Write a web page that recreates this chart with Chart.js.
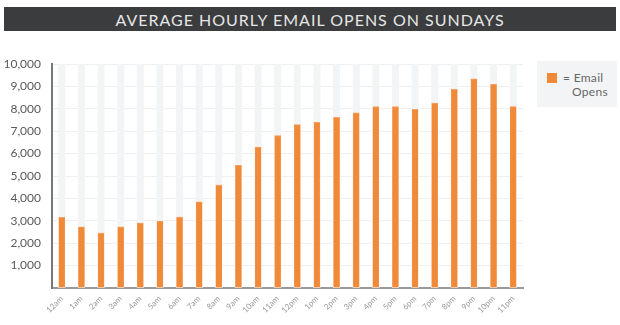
<!DOCTYPE html>
<html>
<head>
<meta charset="utf-8">
<script src="https://cdn.jsdelivr.net/npm/chart.js@4/dist/chart.umd.min.js"></script>
<style>
  html, body { margin: 0; padding: 0; background: #fff; }
  #wrap { position: relative; width: 620px; height: 325px; overflow: hidden; font-family: Lato, "Open Sans", sans-serif; }
  #title {
    position: absolute; left: 4px; top: 7px; width: 612px; height: 24px;
    background: #3a3c3d; color: #e6e6e6; font-size: 16px; letter-spacing: 1px;
    text-align: center; line-height: 25px;
  }
  #chartBox { position: absolute; left: 0; top: 0; width: 620px; height: 325px; }
  #legend {
    position: absolute; left: 537px; top: 61px; width: 80px; height: 46px;
    background: #f3f4f6; color: #666; font-size: 12px; line-height: 14px; letter-spacing: 0.3px;
  }
  #legend .sw { position: absolute; left: 10px; top: 12px; width: 10px; height: 10px; background: #f08a38; }
  #legend .t1 { position: absolute; left: 26px; top: 10px; }
  #legend .t2 { position: absolute; left: 35px; top: 24px; }
</style>
</head>
<body>
<div id="wrap">
  <div id="chartBox"><canvas id="opensChart" width="620" height="325"></canvas></div>
  <div id="title">AVERAGE HOURLY EMAIL OPENS ON SUNDAYS</div>
  <div id="legend"><div class="sw"></div><div class="t1">= Email</div><div class="t2">Opens</div></div>
</div>
<script>
const hours = ['12am', '1am', '2am', '3am', '4am', '5am', '6am', '7am', '8am', '9am', '10am', '11am',
  '12pm', '1pm', '2pm', '3pm', '4pm', '5pm', '6pm', '7pm', '8pm', '9pm', '10pm', '11pm'];
const emailOpens = [3150, 2730, 2450, 2730, 2900, 2990, 3170, 3850, 4590, 5480, 6290, 6800,
  7290, 7400, 7620, 7820, 8100, 8100, 7980, 8260, 8870, 9340, 9090, 8100];
const yMax = 10000;
const yStep = 1000;

// light grey track behind each bar, full height of the plot
const tracks = {
  id: 'tracks',
  beforeDatasetsDraw(chart) {
    const ctx = chart.ctx, x = chart.scales.x, area = chart.chartArea;
    ctx.save();
    ctx.fillStyle = '#f3f4f6';
    hours.forEach(function (h, i) {
      const cx = x.getPixelForValue(i);
      ctx.fillRect(cx - 3.5, area.top, 7, area.bottom - area.top);
    });
    ctx.restore();
  }
};

new Chart(document.getElementById('opensChart'), {
  type: 'bar',
  data: {
    labels: hours,
    datasets: [{
      label: 'Email Opens',
      data: emailOpens,
      backgroundColor: '#f08a38',
      borderColor: '#f5a062',
      borderWidth: { left: 0.5, right: 0.5, top: 1, bottom: 0 },
      barThickness: 6
    }]
  },
  options: {
    responsive: false,
    animation: false,
    layout: { padding: { top: 64, right: 97, left: 0, bottom: 0 } },
    plugins: { legend: { display: false }, tooltip: { enabled: false } },
    scales: {
      x: {
        grid: { display: false, drawTicks: false },
        border: { color: '#999', width: 2 },
        afterFit: function (s) { s.height = 37; },
        ticks: {
          minRotation: 45, maxRotation: 45, padding: 6,
          color: '#999', font: { family: 'Lato', size: 8 }
        }
      },
      y: {
        min: 0, max: yMax,
        afterFit: function (s) { s.width = 52; },
        grid: { color: '#f0f0f0', drawTicks: false },
        border: { color: '#777', width: 2 },
        ticks: {
          stepSize: yStep, padding: 11, color: '#5a5a5a',
          font: { family: 'Lato', size: 12 },
          callback: function (v) { return v === 0 ? '' : v.toLocaleString('en-US'); }
        }
      }
    }
  },
  plugins: [tracks]
});
</script>
</body>
</html>
